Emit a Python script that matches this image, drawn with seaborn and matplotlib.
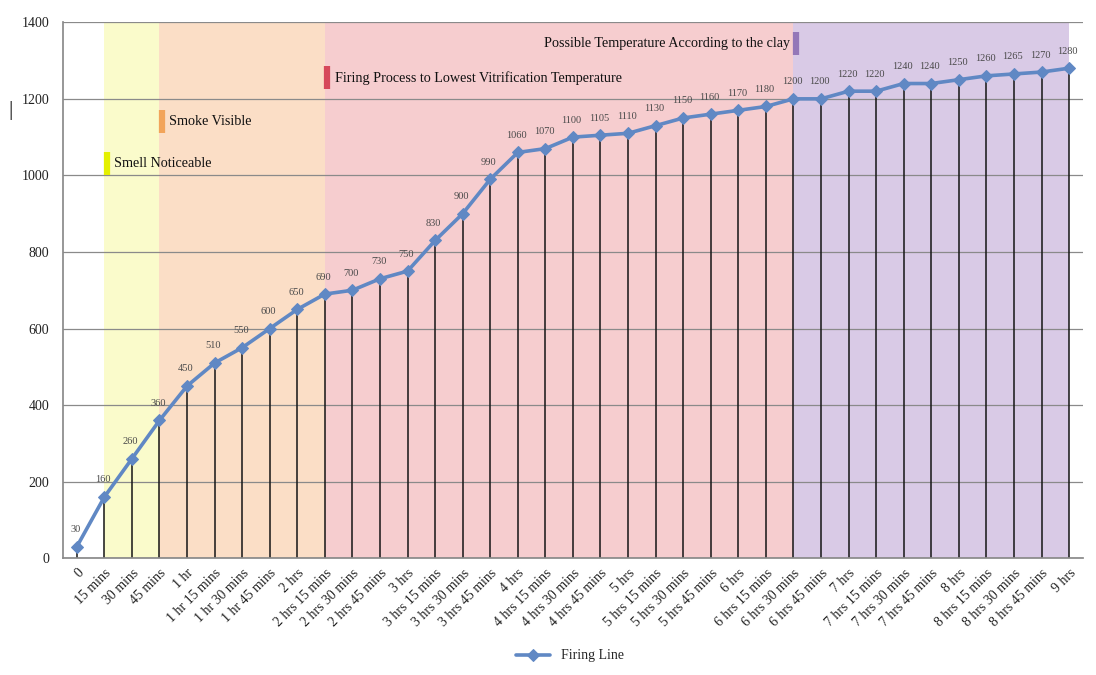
import matplotlib
matplotlib.use("Agg")
import matplotlib.pyplot as plt
import numpy as np
import pandas as pd
import seaborn as sns

# categories along the x axis
times = [
    "0", "15 mins", "30 mins", "45 mins", "1 hr", "1 hr 15 mins", "1 hr 30 mins",
    "1 hr 45 mins", "2 hrs", "2 hrs 15 mins", "2 hrs 30 mins", "2 hrs 45 mins",
    "3 hrs", "3 hrs 15 mins", "3 hrs 30 mins", "3 hrs 45 mins", "4 hrs",
    "4 hrs 15 mins", "4 hrs 30 mins", "4 hrs 45 mins", "5 hrs", "5 hrs 15 mins",
    "5 hrs 30 mins", "5 hrs 45 mins", "6 hrs", "6 hrs 15 mins", "6 hrs 30 mins",
    "6 hrs 45 mins", "7 hrs", "7 hrs 15 mins", "7 hrs 30 mins", "7 hrs 45 mins",
    "8 hrs", "8 hrs 15 mins", "8 hrs 30 mins", "8 hrs 45 mins", "9 hrs",
]
temps = [
    30, 160, 260, 360, 450, 510, 550, 600, 650, 690, 700, 730, 750, 830, 900, 990,
    1060, 1070, 1100, 1105, 1110, 1130, 1150, 1160, 1170, 1180, 1200, 1200, 1220,
    1220, 1240, 1240, 1250, 1260, 1265, 1270, 1280,
]

# firing stages
stage_start = ["15 mins", "45 mins", "2 hrs 15 mins", "6 hrs 30 mins"]
stage_end = ["45 mins", "2 hrs 15 mins", "6 hrs 30 mins", "9 hrs"]
stage_fill = ["#FAFBCB", "#FBDEC6", "#F6CDCF", "#D9CAE6"]
stage_mark = ["#E4F000", "#F2A45A", "#D6495A", "#9477B8"]
stage_label = [
    "Smell Noticeable",
    "Smoke Visible",
    "Firing Process to Lowest Vitrification Temperature",
    "Possible Temperature According to the clay",
]
stage_label_y = [1030, 1140, 1255, 1345]

sns.set_theme(style="white")
plt.rcParams["font.family"] = ["Liberation Serif", "DejaVu Serif"]

df = pd.DataFrame({"time": times, "temp": temps})
df["pos"] = np.arange(len(df))
pos_of = dict(zip(times, df["pos"]))

fig, ax = plt.subplots(figsize=(10.96, 6.75), dpi=100)
fig.subplots_adjust(left=0.0575, right=0.988, bottom=0.173, top=0.967)

for s, e, fc in zip(stage_start, stage_end, stage_fill):
    ax.axvspan(pos_of[s], pos_of[e], color=fc, zorder=0, lw=0)

ax.set_ylim(0, 1400)
ax.set_xlim(-0.5, len(times) - 0.5)
ax.set_yticks(range(0, 1401, 200))
ax.yaxis.grid(True, color="#8a8a8a", lw=0.9, zorder=1)
ax.set_axisbelow(True)

ax.vlines(df["pos"], 0, df["temp"], color="#151515", lw=1.1, zorder=2)

sns.lineplot(
    data=df, x="pos", y="temp", ax=ax, color="#6088C4", lw=2.6,
    marker="D", markersize=6.5, markeredgecolor="#6088C4", label="Firing Line",
    zorder=3,
)

for x, y in zip(df["pos"], df["temp"]):
    ax.annotate(str(y), (x, y), xytext=(-1, 9), textcoords="offset points",
                ha="center", va="bottom", fontsize=7.5, color="#4a4a4a")

# stage labels with small colour bars
for s, mc, lab, ly in zip(stage_start, stage_mark, stage_label, stage_label_y):
    x0 = pos_of[s]
    ax.plot([x0 + 0.08, x0 + 0.08], [ly - 30, ly + 30], color=mc, lw=4.5,
            solid_capstyle="butt", zorder=4)
    if s == "6 hrs 30 mins":
        ax.text(x0 - 0.12, ly, lab, ha="right", va="center", fontsize=10.2,
                color="#111111", zorder=4)
    else:
        ax.text(x0 + 0.35, ly, lab, ha="left", va="center", fontsize=10.2,
                color="#111111", zorder=4)

ax.set_xticks(df["pos"])
ax.set_xticklabels(times, rotation=45, ha="right", rotation_mode="anchor",
                   fontsize=10, color="#222222")
ax.tick_params(axis="x", pad=6, length=0)
ax.tick_params(axis="y", labelsize=10, colors="#222222", length=0, pad=10)
ax.set_xlabel("")
ax.set_ylabel("")

for side in ["top", "right"]:
    ax.spines[side].set_visible(False)
ax.spines["left"].set_color("#8a8a8a")
ax.spines["bottom"].set_color("#8a8a8a")

ax.get_legend().remove()
handles, labels = ax.get_legend_handles_labels()
fig.legend(handles, labels, loc="lower center", bbox_to_anchor=(0.52, 0.0),
           frameon=False, fontsize=10, handlelength=2.5)

fig.text(0.008, 0.83, "|", fontsize=16, color="#222222")

fig.savefig("out.png", dpi=100)
